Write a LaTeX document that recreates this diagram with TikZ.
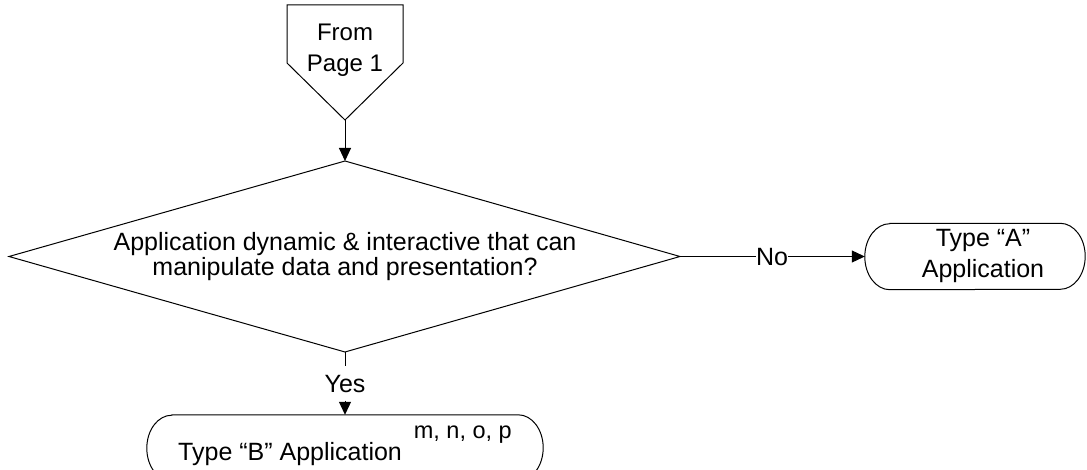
\documentclass[tikz,border=0pt]{standalone}
\usepackage{fontspec}
\setmainfont{Liberation Sans}
\usetikzlibrary{arrows.meta}
\begin{document}
\tikzset{
  flow/.style={line width=1pt, line join=miter},
  arrowline/.style={flow, -{Triangle[length=13pt,width=12pt]}},
  lbl/.style={font=\fontsize{25}{25}\selectfont, inner sep=0pt},
  terminal/.style={inner sep=0pt, minimum height=66pt},
}
\begin{tikzpicture}[x=1pt,y=1pt]
\useasboundingbox (0,0) rectangle (1087,469);

% off-page connector
\coordinate (cTL) at (287,464);
\coordinate (cTR) at (403,464);
\coordinate (cR) at (403,406);
\coordinate (cTip) at (345,349);
\coordinate (cL) at (287,406);
\draw[flow] (cTL) -- (cTR) -- (cR) -- (cTip) -- (cL) -- cycle;
\node[lbl, align=center, font=\fontsize{24}{31}\selectfont] (from) at (345,419) {From\\Page 1};

% decision
\coordinate (dT) at (345,308);
\coordinate (dR) at (680,212.5);
\coordinate (dB) at (345,117);
\coordinate (dL) at (9,212.5);
\draw[flow] (dT) -- (dR) -- (dB) -- (dL) -- cycle;
\node[lbl, align=center, font=\fontsize{25}{24.5}\selectfont] (dec) at (345,212.5)
  {Application dynamic \& interactive that can\\manipulate data and presentation?};

% terminal A
\node[terminal, minimum width=220pt] (A) at (975,212.5) {};
\draw[flow] ([xshift=25pt]A.north west) -- ([xshift=-25pt]A.north east)
  arc[start angle=90, end angle=-90, x radius=25pt, y radius=33pt]
  -- ([xshift=25pt]A.south west)
  arc[start angle=270, end angle=90, x radius=25pt, y radius=33pt] -- cycle;
\node[lbl, align=center, font=\fontsize{25}{31}\selectfont] (Atext) at (983,212.85) {Type “A”\\Application};

% terminal B
\node[terminal, minimum width=396pt] (B) at (345,21) {};
\draw[flow] ([xshift=25pt]B.north west) -- ([xshift=-25pt]B.north east)
  arc[start angle=90, end angle=-90, x radius=25pt, y radius=33pt]
  -- ([xshift=25pt]B.south west)
  arc[start angle=270, end angle=90, x radius=25pt, y radius=33pt] -- cycle;
\node[lbl, anchor=base west] (Btext) at (178,9)
  {Type “B” Application\hspace{5pt} \raisebox{22pt}{\fontsize{23.5}{23.5}\selectfont m, n, o, p}};

% branch labels
\node[lbl, text height=17.9pt, text depth=0pt] (no) at (772,212.5) {No};
\node[lbl, text height=17.9pt, text depth=0pt, inner ysep=8pt] (yes) at (345,85.65) {Yes};

% connectors
\draw[arrowline] (cTip) -- (dT);
\draw[flow] (dR) -- (no.west);
\draw[arrowline] (no.east) -- (A.west);
\draw[flow] (dB) -- (yes.north);
\draw[arrowline] (yes.south) -- (B.north);
\end{tikzpicture}
\end{document}
